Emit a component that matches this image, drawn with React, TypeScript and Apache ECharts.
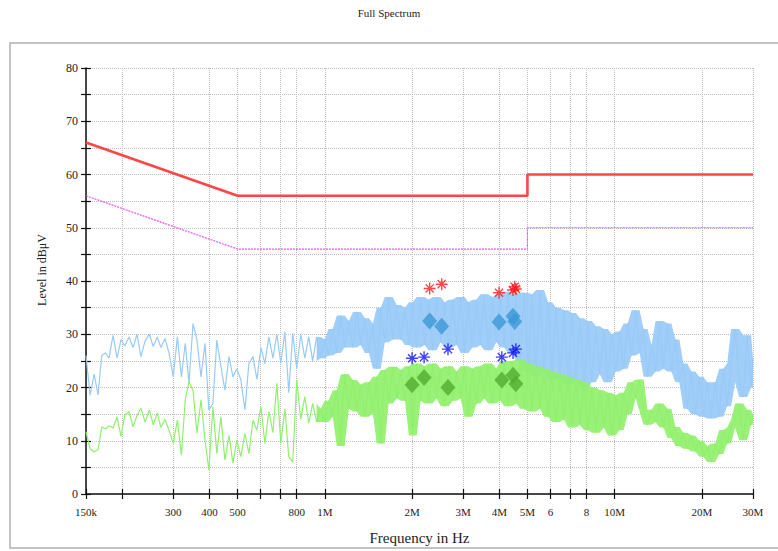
import React, { useEffect, useRef } from "react";
import * as echarts from "echarts";

// Scan frequencies (kHz)
const freqs = [
  150, 155, 160, 165, 170, 175, 180, 186, 192, 198,
  204, 211, 218, 225, 232, 240, 248, 256, 264, 272,
  281, 290, 300, 310, 320, 330, 340, 351, 362, 374,
  386, 398, 411, 424, 438, 452, 467, 482, 497, 513,
  530, 547, 565, 583, 602, 621, 641, 662, 683, 705,
  728, 751, 775, 800, 826, 853, 880, 908, 937, 967,
  1000, 1030, 1065, 1100, 1135, 1170, 1210, 1250, 1290, 1330,
  1375, 1420, 1465, 1510, 1560, 1610, 1660, 1715, 1770, 1830,
  1890, 1950, 2010, 2075, 2140, 2210, 2280, 2355, 2430, 2510,
  2590, 2675, 2760, 2850, 2940, 3035, 3130, 3230, 3335, 3440,
  3550, 3665, 3785, 3905, 4030, 4160, 4295, 4430, 4575, 4720,
  4870, 5030, 5190, 5355, 5530, 5705, 5890, 6080, 6275, 6475,
  6685, 6900, 7120, 7350, 7585, 7830, 8080, 8340, 8610, 8885,
  9170, 9465, 9770, 10080, 10400, 10740, 11080, 11440, 11810, 12190,
  12580, 12980, 13400, 13830, 14270, 14730, 15200, 15690, 16200, 16720,
  17250, 17810, 18380, 18970, 19580, 20210, 20860, 21530, 22220, 22940,
  23680, 24440, 25220, 26030, 26870, 27740, 28630, 29550, 30000,
];

// Peak detector trace (dBµV)
const peakLevels = [
  26, 18.5, 22.5, 18.6, 26, 26.5, 25.5, 29.8, 25.5, 29,
  27.8, 29.5, 27.5, 30, 25.8, 28.8, 30, 27.7, 29.5, 27.5,
  29.2, 26.5, 22, 29.5, 22, 28.3, 20.8, 32, 29, 22,
  28.3, 15.8, 17, 28.9, 24, 19.5, 25.8, 22, 23.5, 21.5,
  15.8, 24.5, 25.8, 21.5, 27.5, 24.5, 29.5, 25.5, 30, 24.5,
  30.5, 19, 30.2, 23.5, 30, 25.5, 29.5, 25, 29.5, 25.5,
  29, 26, 31, 26.5, 33.5, 27.5, 32.5, 27.5, 34.2, 28,
  33, 26.5, 32, 23.5, 35, 28.5, 37, 29, 35.5, 29,
  35, 28, 36, 27.5, 37, 28, 36.5, 27, 37, 28.5,
  36, 27.5, 36.5, 28, 37, 26.5, 36, 27.5, 36.5, 28,
  37.5, 27, 37, 28.5, 37.5, 27.5, 38, 26.5, 37.5, 25,
  37.8, 23, 37.5, 22, 38.3, 23.5, 36, 21.5, 35, 22,
  34.5, 20.5, 34, 21.5, 33, 20, 32.5, 21, 31.5, 22.5,
  31, 21, 30, 23, 30.5, 23.5, 32, 26, 34.5, 26.5,
  31, 22, 28, 23, 32.5, 23.5, 32, 23, 29, 21,
  24.5, 16, 23, 15, 22, 14.5, 21, 14.2, 21, 14.5,
  23.5, 16.5, 24.5, 31, 21, 18.2, 29.8, 20, 25.5,
];

// Average detector trace (dBµV)
const avgLevels = [
  11.7, 8.5, 7.9, 8.3, 12.6, 12.2, 12.8, 12.4, 14.5, 10.8,
  14.8, 15.5, 12.6, 14.8, 16.1, 13.5, 15.8, 13, 15.2, 12.5,
  14, 12, 9.5, 13.9, 7.3, 17.7, 21.1, 19.5, 11.4, 17.7,
  10.1, 4.5, 16.4, 7.6, 14.5, 6.4, 11, 5.8, 10.1, 7,
  11.4, 7.6, 13.9, 12, 16.4, 9.5, 15.5, 11.5, 20.8, 9.5,
  16, 7, 6, 21.4, 14, 18.3, 13.3, 17, 13.5, 16,
  13.5, 17.5, 14.5, 19.5, 9, 22.5, 16, 21.4, 15.5, 20.5,
  14.5, 21, 15.2, 22, 9.5, 23.3, 17, 23.9, 18, 23.3,
  17.5, 24, 11, 24.5, 17.5, 24, 17, 24.5, 18, 23.5,
  16.5, 24, 17.5, 23, 18, 24, 14.5, 23.5, 17, 24,
  18, 24.5, 17, 23.5, 17.5, 25, 16.5, 25, 17, 25.2,
  16, 24.5, 15.5, 24, 16, 23.5, 14.5, 23, 13.5, 22.5,
  14, 22, 12.5, 21.5, 13, 21, 12, 20, 11.5, 19.5,
  12.5, 19, 11, 18.5, 12, 19, 15, 21, 18, 21.5,
  15.5, 13, 15.8, 13.5, 17, 12.5, 16, 10.5, 12.6, 9,
  11.5, 8.5, 11, 8, 10, 7, 9, 6, 9.5, 7.5,
  12, 9.5, 12.5, 14, 17, 10.1, 15.8, 13, 15,
];

// From this scan index on, the trace is so dense it reads as a filled band
const bandFrom = 58;

// Limit lines [kHz, dBµV]
const qpLimit = [[150, 66], [500, 56], [5000, 56], [5000, 60], [30000, 60]];
const avLimit = [[150, 56], [500, 46], [5000, 46], [5000, 50], [30000, 50]];

// Final measurement markers [kHz, dBµV]
const qpPeakMarks = [[2300, 38.6], [2530, 39.4], [3990, 37.8], [4460, 38.3], [4520, 38.9], [4560, 38.5]];
const qpValueMarks = [[2300, 32.5], [2530, 31.5], [3990, 32.3], [4460, 33.4], [4520, 32.4]];
const avPeakMarks = [[2000, 25.5], [2200, 25.7], [2660, 27.2], [4080, 25.7], [4460, 26.5], [4560, 27.2]];
const avValueMarks = [[2000, 20.5], [2200, 21.9], [2660, 20.0], [4080, 21.4], [4460, 22.3], [4560, 20.7]];

// Axis ticks / labels
const xTickValues = [150, 200, 300, 400, 500, 600, 700, 800, 1000, 2000, 3000, 4000, 5000, 6000, 7000, 8000, 10000, 20000, 30000];
const xLabelValues = [150, 300, 400, 500, 800, 1000, 2000, 3000, 4000, 5000, 6000, 8000, 10000, 20000, 30000];
const xLabelTexts = ["150k", "300", "400", "500", "800", "1M", "2M", "3M", "4M", "5M", "6", "8", "10M", "20M", "30M"];

const SERIF = "'Liberation Serif', 'DejaVu Serif', serif";
const STAR = "path://M5 0 L5 10 M0 5 L10 5 M1.6 1.6 L8.4 8.4 M1.6 8.4 L8.4 1.6";

const PEAK_COLOR = "#98caf7";
const AVG_COLOR = "#90f06c";

export default function App() {
  const ref = useRef<HTMLDivElement>(null);

  useEffect(() => {
    if (!ref.current) return;
    const chart = echarts.init(ref.current, undefined, { renderer: "svg" });

    const xBase = { type: "log", logBase: 10, min: 150, max: 30000, gridIndex: 0, position: "bottom" };
    const yBase = { type: "value", min: 0, max: 80, interval: 5, gridIndex: 0, position: "left" };

    // min / max of each reading and its neighbours: the band the dense trace fills
    const envelope = (vals: number[]) =>
      freqs.slice(bandFrom).map((f, k) => {
        const i = k + bandFrom;
        const w = vals.slice(Math.max(i - 1, 0), Math.min(i + 2, vals.length));
        return [f, Math.min(...w), Math.max(...w)];
      });

    const traceSeries = (name: string, vals: number[], color: string, z: number) => {
      const env = envelope(vals);
      return [
        {
          name: name + " band",
          type: "custom",
          coordinateSystem: "cartesian2d",
          data: env,
          silent: true,
          z,
          renderItem: (params: any, api: any) => {
            if (params.dataIndex !== 0) return null;
            const upper = env.map((e) => api.coord([e[0], e[2]]));
            const lower = env.map((e) => api.coord([e[0], e[1]])).reverse();
            return {
              type: "polygon",
              shape: { points: upper.concat(lower) },
              style: { fill: color, opacity: 0.92, stroke: "none" },
            };
          },
        },
        {
          name,
          type: "line",
          data: freqs.map((f, i) => [f, vals[i]]),
          showSymbol: false,
          symbol: "none",
          lineStyle: { color, width: 1.2 },
          silent: true,
          z,
        },
      ];
    };

    const option: any = {
      animation: false,
      backgroundColor: "#ffffff",
      title: {
        text: "Full Spectrum",
        left: "center",
        top: 7,
        padding: 0,
        textStyle: { fontFamily: SERIF, fontSize: 11, fontWeight: "normal", color: "#222" },
      },
      graphic: [
        {
          type: "rect",
          shape: { x: 10, y: 43, width: 780, height: 505 },
          style: { fill: "none", stroke: "#b0b0b0", lineWidth: 1.5 },
          silent: true,
          z: -10,
        },
      ],
      grid: { left: 86, top: 68, width: 667, height: 426, containLabel: false },
      xAxis: [
        {
          ...xBase,
          axisLine: { show: true, lineStyle: { color: "#111", width: 1.5 } },
          axisTick: { show: true, length: 5, customValues: xTickValues, lineStyle: { color: "#111", width: 1.2 } },
          axisLabel: {
            customValues: xLabelValues,
            formatter: (v: number) => {
              const i = xLabelValues.findIndex((x) => Math.abs(x - v) < 1e-6 * x);
              return i >= 0 ? xLabelTexts[i] : "";
            },
            fontFamily: SERIF,
            fontSize: 11,
            color: "#222",
            margin: 12,
          },
          splitLine: { show: true, lineStyle: { type: "dotted", color: "#bdbdbd", width: 1 } },
          name: "Frequency in Hz",
          nameLocation: "middle",
          nameGap: 36,
          nameTextStyle: { fontFamily: SERIF, fontSize: 15, color: "#222" },
        },
        {
          ...xBase,
          axisLine: { show: false },
          axisTick: { show: true, inside: true, length: 5, customValues: xTickValues, lineStyle: { color: "#111", width: 1.2 } },
          axisLabel: { show: false },
          splitLine: { show: false },
        },
      ],
      yAxis: [
        {
          ...yBase,
          axisLine: { show: true, lineStyle: { color: "#111", width: 1.5 } },
          axisTick: { show: true, length: 5, lineStyle: { color: "#111", width: 1.2 } },
          axisLabel: {
            formatter: (v: number) => (v % 10 === 0 ? String(v) : ""),
            fontFamily: SERIF,
            fontSize: 12,
            color: "#222",
            margin: 8,
          },
          splitLine: { show: true, lineStyle: { type: "dotted", color: "#bdbdbd", width: 1 } },
          name: "Level in dBμV",
          nameLocation: "middle",
          nameGap: 38,
          nameTextStyle: { fontFamily: SERIF, fontSize: 12, color: "#222", padding: [0, 0, 0, 22] },
        },
        {
          ...yBase,
          axisLine: { show: false },
          axisTick: { show: true, inside: true, length: 5, lineStyle: { color: "#111", width: 1.2 } },
          axisLabel: { show: false },
          splitLine: { show: false },
        },
      ],
      series: [
        ...traceSeries("Peak", peakLevels, PEAK_COLOR, 2),
        ...traceSeries("Average", avgLevels, AVG_COLOR, 3),
        {
          name: "QP Limit",
          type: "line",
          data: qpLimit,
          showSymbol: false,
          symbol: "none",
          lineStyle: { color: "#ff4545", width: 2.6 },
          silent: true,
          z: 4,
        },
        {
          name: "AV Limit",
          type: "line",
          data: avLimit,
          showSymbol: false,
          symbol: "none",
          lineStyle: { color: "#f04cf0", width: 1.2, type: [2, 1] },
          silent: true,
          z: 4,
        },
        {
          name: "QP Peak",
          type: "scatter",
          data: qpPeakMarks,
          symbol: STAR,
          symbolSize: 12,
          itemStyle: { color: "rgba(0,0,0,0)", borderColor: "#ff1a1a", borderWidth: 1.4 },
          z: 6,
        },
        {
          name: "QP Value",
          type: "scatter",
          data: qpValueMarks,
          symbol: "diamond",
          symbolSize: [15, 17],
          itemStyle: { color: "#3b97d6" },
          z: 5,
        },
        {
          name: "AV Peak",
          type: "scatter",
          data: avPeakMarks,
          symbol: STAR,
          symbolSize: 12,
          itemStyle: { color: "rgba(0,0,0,0)", borderColor: "#1010ff", borderWidth: 1.4 },
          z: 6,
        },
        {
          name: "AV Value",
          type: "scatter",
          data: avValueMarks,
          symbol: "diamond",
          symbolSize: [15, 17],
          itemStyle: { color: "#52ad2f" },
          z: 5,
        },
      ],
    };

    chart.setOption(option);
    return () => chart.dispose();
  }, []);

  return (
    <div
      ref={ref}
      style={{ position: "fixed", left: 0, top: 0, width: 778, height: 551, background: "#fff" }}
    />
  );
}
